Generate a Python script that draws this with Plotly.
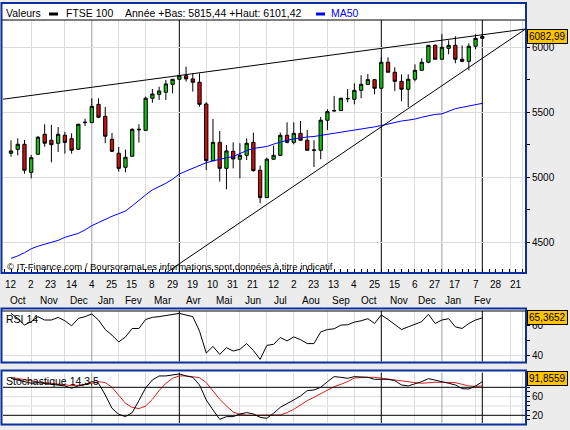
from __future__ import annotations

import pandas as pd
import plotly.graph_objects as go

WIDTH, HEIGHT = 570, 430
FONT = "Liberation Sans, Arial, sans-serif"

# FTSE 100, weekly candles (monday dates)
first_week = "2009-10-12"
opens = [5185, 5215, 5254, 5038, 5177, 5331, 5285, 5262, 5323, 5297,
         5216, 5425, 5421, 5561, 5469, 5292, 5185, 5077, 5162, 5365,
         5361, 5608, 5638, 5654, 5715, 5754, 5782, 5757, 5731, 5564,
         5128, 5269, 5069, 5200, 5139, 5169, 5269, 5054, 4844, 5139,
         5169, 5323, 5269, 5338, 5285, 5208, 5208, 5439, 5510, 5513,
         5603, 5600, 5669, 5715, 5751, 5685, 5885, 5808, 5738, 5677,
         5754, 5823, 5885, 6015, 5908, 5992, 6015, 5908, 5892, 6008,
         6069]
highs = [5285, 5300, 5287, 5172, 5318, 5408, 5403, 5387, 5349, 5338,
         5412, 5451, 5608, 5608, 5541, 5341, 5233, 5213, 5377, 5408,
         5621, 5679, 5697, 5749, 5756, 5787, 5851, 5800, 5800, 5577,
         5449, 5356, 5249, 5269, 5262, 5300, 5344, 5090, 5151, 5244,
         5344, 5423, 5423, 5433, 5364, 5285, 5464, 5523, 5626, 5613,
         5679, 5723, 5785, 5795, 5756, 5923, 5923, 5846, 5792, 5792,
         5869, 5915, 6015, 6023, 6102, 6054, 6085, 6015, 6031, 6100,
         6101]
lows = [5159, 5169, 5028, 4992, 5177, 5236, 5115, 5195, 5182, 5182,
        5210, 5395, 5418, 5454, 5262, 5195, 5044, 5038, 5160, 5267,
        5358, 5574, 5595, 5595, 5646, 5750, 5736, 5659, 5544, 5056,
        5125, 4967, 4908, 5069, 4992, 5133, 5044, 4800, 4840, 5135,
        5165, 5262, 5254, 5282, 5205, 5079, 5139, 5364, 5508, 5510,
        5577, 5561, 5608, 5713, 5638, 5683, 5806, 5664, 5585, 5539,
        5738, 5820, 5877, 5906, 5905, 5946, 5877, 5885, 5823, 5985,
        6066]
closes = [5203, 5254, 5054, 5151, 5308, 5262, 5251, 5331, 5269, 5208,
          5408, 5421, 5546, 5462, 5316, 5200, 5069, 5154, 5369, 5369,
          5608, 5641, 5664, 5718, 5754, 5782, 5757, 5731, 5561, 5128,
          5269, 5069, 5203, 5141, 5169, 5262, 5051, 4844, 5139, 5169,
          5323, 5269, 5338, 5285, 5208, 5210, 5439, 5505, 5513, 5608,
          5606, 5669, 5715, 5751, 5685, 5885, 5808, 5738, 5677, 5754,
          5823, 5885, 6015, 5908, 6000, 6015, 5908, 5892, 6008, 6069,
          6082.99]
ma50 = [4377, 4395, 4420, 4450, 4470, 4485, 4497, 4515, 4538, 4555,
        4569, 4595, 4628, 4652, 4678, 4700, 4720, 4741, 4780, 4826,
        4865, 4903, 4928, 4954, 4985, 5025, 5048, 5070, 5095, 5112,
        5126, 5140, 5150, 5160, 5185, 5205, 5222, 5230, 5237, 5255,
        5272, 5285, 5296, 5305, 5310, 5314, 5322, 5332, 5338, 5344,
        5352, 5362, 5370, 5378, 5388, 5398, 5410, 5422, 5433, 5440,
        5448, 5462, 5475, 5484, 5488, 5510, 5528, 5538, 5548, 5560,
        5569]
rsi14 = [68.4, 65.0, 60.5, 62.8, 66.2, 63.9, 63.9, 65.7, 63.4, 60.0,
         65.0, 66.2, 68.0, 63.9, 57.5, 53.7, 49.1, 52.5, 58.2, 58.2,
         64.3, 65.7, 66.2, 66.8, 67.8, 68.4, 67.3, 66.2, 56.4, 41.6,
         46.1, 40.7, 45.2, 43.0, 44.1, 48.0, 43.4, 37.3, 46.8, 47.5,
         52.1, 49.8, 52.5, 50.7, 48.0, 48.0, 55.9, 57.5, 58.0, 60.5,
         60.7, 62.5, 63.4, 64.8, 61.6, 67.3, 64.3, 61.1, 57.5, 59.3,
         61.1, 62.8, 67.8, 61.6, 63.9, 64.8, 59.3, 58.2, 61.6, 63.9,
         65.3652]
stoch_k = [99.3, 95.7, 92.1, 88.6, 90.0, 88.6, 87.1, 84.3, 82.9, 77.9,
           82.9, 85.7, 92.1, 88.6, 63.6, 35.0, 22.1, 17.1, 25.7, 51.4,
           78.6, 95.7, 104.3, 104.3, 106.4, 108.6, 104.3, 101.4, 85.0, 52.9,
           31.4, 11.4, 17.1, 17.1, 22.9, 25.7, 22.9, 15.7, 13.6, 24.3,
           37.1, 44.3, 52.9, 61.4, 72.9, 74.3, 80.0, 92.1, 102.9, 101.4,
           99.3, 102.9, 102.1, 101.4, 97.1, 97.1, 97.1, 94.3, 85.0, 82.9,
           87.1, 92.1, 98.6, 95.7, 92.1, 88.6, 85.0, 77.1, 76.4, 82.9,
           91.8559]
stoch_d = [101.4, 98.6, 95.7, 92.9, 91.4, 90.0, 88.6, 87.1, 85.0, 83.6,
           84.3, 85.7, 88.6, 92.1, 90.0, 80.0, 63.6, 45.7, 37.1, 34.3,
           40.0, 54.3, 72.9, 88.6, 99.3, 104.3, 104.3, 102.9, 100.7, 90.0,
           71.4, 54.3, 40.0, 27.1, 22.1, 20.0, 20.0, 20.0, 20.0, 20.0,
           20.7, 25.7, 32.9, 42.1, 51.4, 58.6, 66.4, 74.3, 81.4, 86.4,
           92.1, 100.0, 101.4, 101.4, 101.4, 99.3, 97.1, 95.7, 94.3, 92.1,
           90.0, 88.6, 90.0, 90.7, 90.7, 90.7, 90.0, 86.4, 82.9, 82.1,
           82.9]

# trend lines drawn on the price panel
trend_top_x = ["2009-10-03", "2011-03-31"]
trend_top_y = [5600, 6141]
trend_low_x = ["2010-03-23 12:00", "2011-03-31"]
trend_low_y = [4272, 6141]

year_low, year_high = 5815.44, 6101.42

# vertical markers
month_grid = ["2009-11-02", "2009-12-07", "2010-02-01", "2010-03-01", "2010-05-03",
              "2010-06-07", "2010-07-05", "2010-08-02", "2010-09-06", "2010-10-04",
              "2010-12-06", "2011-02-07", "2011-03-15", "2011-03-28"]
year_lines = ["2010-01-04", "2011-01-03"]
marker_lines = ["2010-04-05", "2010-11-01", "2011-02-14"]

# date labels under the price panel
month_labels = ["Oct", "Nov", "Dec", "Jan", "Fev", "Mar", "Avr", "Mai", "Jun",
                "Jul", "Aou", "Sep", "Oct", "Nov", "Dec", "Jan", "Fev"]
month_label_dates = ["2009-10-19", "2009-11-20", "2009-12-22", "2010-01-19", "2010-02-16",
                     "2010-03-19", "2010-04-20", "2010-05-21", "2010-06-21", "2010-07-19",
                     "2010-08-20", "2010-09-20", "2010-10-19", "2010-11-19", "2010-12-18",
                     "2011-01-15", "2011-02-14"]

candle_dates = pd.date_range(first_week, periods=len(closes), freq="7D")
day_ticks = pd.date_range(first_week, periods=26, freq="21D")


def px(x: float) -> float:
    return x / WIDTH


def py(y: float) -> float:
    return 1 - y / HEIGHT


def fr(value: float, digits: int) -> str:
    return f"{value:.{digits}f}".replace(".", ",")


X_LEFT, X_RIGHT = 3, 525
MAIN = (20, 272)
RSI = (311, 361.5)
STO = (372.5, 423)
FRAME = "#0B2F9F"
GRID = "#DCDCDC"

start = pd.Timestamp(first_week)
x_range = [start - pd.Timedelta(days=8.32), start + pd.Timedelta(days=534.4)]

fig = go.Figure()
fig.add_trace(
    go.Candlestick(
        x=candle_dates, open=opens, high=highs, low=lows, close=closes,
        increasing={"fillcolor": "#12C012", "line": {"color": "black", "width": 1}},
        decreasing={"fillcolor": "#CC1010", "line": {"color": "black", "width": 1}},
        whiskerwidth=0, showlegend=False, hoverinfo="skip", xaxis="x", yaxis="y",
    )
)
fig.add_trace(go.Scatter(x=candle_dates, y=ma50, mode="lines", line={"color": "#0000FF", "width": 1},
                         showlegend=False, hoverinfo="skip", xaxis="x", yaxis="y"))
for tx, ty in ((trend_top_x, trend_top_y), (trend_low_x, trend_low_y)):
    fig.add_trace(go.Scatter(x=tx, y=ty, mode="lines", line={"color": "black", "width": 1},
                             showlegend=False, hoverinfo="skip", xaxis="x", yaxis="y"))
fig.add_trace(go.Scatter(x=candle_dates, y=rsi14, mode="lines", line={"color": "black", "width": 1},
                         showlegend=False, hoverinfo="skip", xaxis="x2", yaxis="y2"))
fig.add_trace(go.Scatter(x=candle_dates, y=stoch_d, mode="lines", line={"color": "#D02020", "width": 1},
                         showlegend=False, hoverinfo="skip", xaxis="x3", yaxis="y3"))
fig.add_trace(go.Scatter(x=candle_dates, y=stoch_k, mode="lines", line={"color": "black", "width": 1},
                         showlegend=False, hoverinfo="skip", xaxis="x3", yaxis="y3"))

x_common = dict(
    domain=[px(X_LEFT), px(X_RIGHT)], type="date", range=x_range,
    tickvals=month_grid, showticklabels=False, ticks="",
    showgrid=True, gridcolor=GRID, gridwidth=1, zeroline=False, showline=False,
)
y_common = dict(side="right", ticks="outside", ticklen=4, tickcolor="black", zeroline=False,
                showline=False, tickfont={"family": FONT, "size": 10, "color": "black"})

sto_ticks = [10, 20, 30, 40, 50, 60, 70, 80, 90, 100, 110]
sto_text = ["", "20", "", "", "", "60", "", "", "", "", ""]

fig.update_layout(
    width=WIDTH, height=HEIGHT, autosize=False,
    margin={"l": 0, "r": 0, "t": 0, "b": 0},
    paper_bgcolor="#ECECEC", plot_bgcolor="white",
    font={"family": FONT, "size": 10, "color": "black"},
    showlegend=False,
    xaxis=dict(x_common, anchor="y", rangeslider={"visible": False},
               minor={"dtick": 7 * 86400000, "tick0": first_week, "ticks": "inside",
                      "ticklen": 3, "tickcolor": "black", "showgrid": False}),
    xaxis2=dict(x_common, anchor="y2", matches="x"),
    xaxis3=dict(x_common, anchor="y3", matches="x"),
    yaxis=dict(y_common, domain=[py(MAIN[1]), py(MAIN[0])], anchor="x", range=[4271.5, 6210],
               tick0=4500, dtick=500, showgrid=True, gridcolor=GRID,
               minor={"dtick": 250, "tick0": 4250, "ticks": "outside", "ticklen": 4, "tickcolor": "black"}),
    yaxis2=dict(y_common, domain=[py(RSI[1]), py(RSI[0])], anchor="x2", range=[35.9, 70.0],
                tickvals=[40, 50, 60], ticktext=["40", "", "60"], showgrid=False),
    yaxis3=dict(y_common, domain=[py(STO[1]), py(STO[0])], anchor="x3", range=[3.5, 111.7],
                tickvals=sto_ticks, ticktext=sto_text, showgrid=False),
)

shapes = []
# white panel backgrounds
for top, bottom in ((3, 273), (308.5, 362.5), (370.5, 424.5)):
    shapes.append(dict(type="rect", xref="paper", yref="paper", x0=px(1.5), x1=px(526),
                       y0=py(bottom), y1=py(top), fillcolor="white", line={"width": 0}, layer="below"))
# light horizontal levels in the indicator panels
for level in (40,):
    shapes.append(dict(type="line", xref="x2 domain", yref="y2", x0=0, x1=1, y0=level, y1=level,
                       line={"color": GRID, "width": 1}, layer="below"))
for level in (40, 60):
    shapes.append(dict(type="line", xref="x3 domain", yref="y3", x0=0, x1=1, y0=level, y1=level,
                       line={"color": GRID, "width": 1}, layer="below"))
# year and marker verticals in every panel
for xr, yr in (("x", "y domain"), ("x2", "y2 domain"), ("x3", "y3 domain")):
    for d in year_lines:
        shapes.append(dict(type="line", xref=xr, yref=yr, x0=d, x1=d, y0=0, y1=1,
                           line={"color": "#A0A0A0", "width": 1}, layer="below"))
    for d in marker_lines:
        shapes.append(dict(type="line", xref=xr, yref=yr, x0=d, x1=d, y0=0, y1=1,
                           line={"color": "black", "width": 1}, layer="below"))
# stochastic 20 / 80 lines
for level in (20, 80):
    shapes.append(dict(type="line", xref="x3 domain", yref="y3", x0=0, x1=1, y0=level, y1=level,
                       line={"color": "black", "width": 1}))
# header separators
for y in (MAIN[0], RSI[0]):
    shapes.append(dict(type="line", xref="paper", yref="paper", x0=px(2), x1=px(525.5),
                       y0=py(y), y1=py(y), line={"color": "black", "width": 1}))
# legend swatches
for x0, x1, color in ((49, 58, "black"), (316, 325, "#0000FF")):
    shapes.append(dict(type="rect", xref="paper", yref="paper", x0=px(x0), x1=px(x1),
                       y0=py(15.5), y1=py(12.5), fillcolor=color, line={"width": 0}))
# blue panel frames
for top, bottom in ((3, 273), (308.5, 362.5), (370.5, 424.5)):
    shapes.append(dict(type="rect", xref="paper", yref="paper", x0=px(1.5), x1=px(526),
                       y0=py(bottom), y1=py(top), line={"color": FRAME, "width": 2}))

annotations = []


def text(x, y, s, color="black", size=10.5, xref="paper", yref="paper", xanchor="left"):
    annotations.append(dict(x=x, y=y, xref=xref, yref=yref, text=s, showarrow=False,
                            xanchor=xanchor, yanchor="middle",
                            font={"family": FONT, "size": size, "color": color}))


text(px(4), py(13.5), "Valeurs")
text(px(64), py(13.5), "FTSE 100")
text(px(123), py(13.5), f"Année +Bas: {fr(year_low, 2)} +Haut: {fr(year_high, 2)}")
text(px(329), py(13.5), "MA50", color="#0000FF")
text(px(5), py(266), "© IT-Finance.com / BoursoramaLes informations sont données à titre indicatif", size=9.5)
text(px(4), py(318.5), "RSI 14")
text(px(4), py(381), "Stochastique 14,3,5")

for d in day_ticks:
    text(d, py(284.5), str(d.day), size=10, xref="x", xanchor="center")
for d, name in zip(month_label_dates, month_labels):
    text(d, py(300), name, size=10, xref="x", xanchor="center")

for value, digits, yref, shift in ((closes[-1], 2, "y", 0), (rsi14[-1], 4, "y2", 0), (stoch_k[-1], 4, "y3", 3)):
    annotations.append(dict(x=px(526.5), xref="paper", xanchor="left", y=value, yref=yref,
                            yanchor="middle", yshift=shift, text=fr(value, digits), showarrow=False,
                            bgcolor="#FFC400", bordercolor="black", borderwidth=1, borderpad=1,
                            font={"family": FONT, "size": 10, "color": "black"}))

fig.update_layout(shapes=shapes, annotations=annotations)
# the page body has a default 8px margin; drop it so the figure sits at the window origin
fig.write_html("out.html", config={"displayModeBar": False},
               post_script="document.body.style.margin='0px';")
